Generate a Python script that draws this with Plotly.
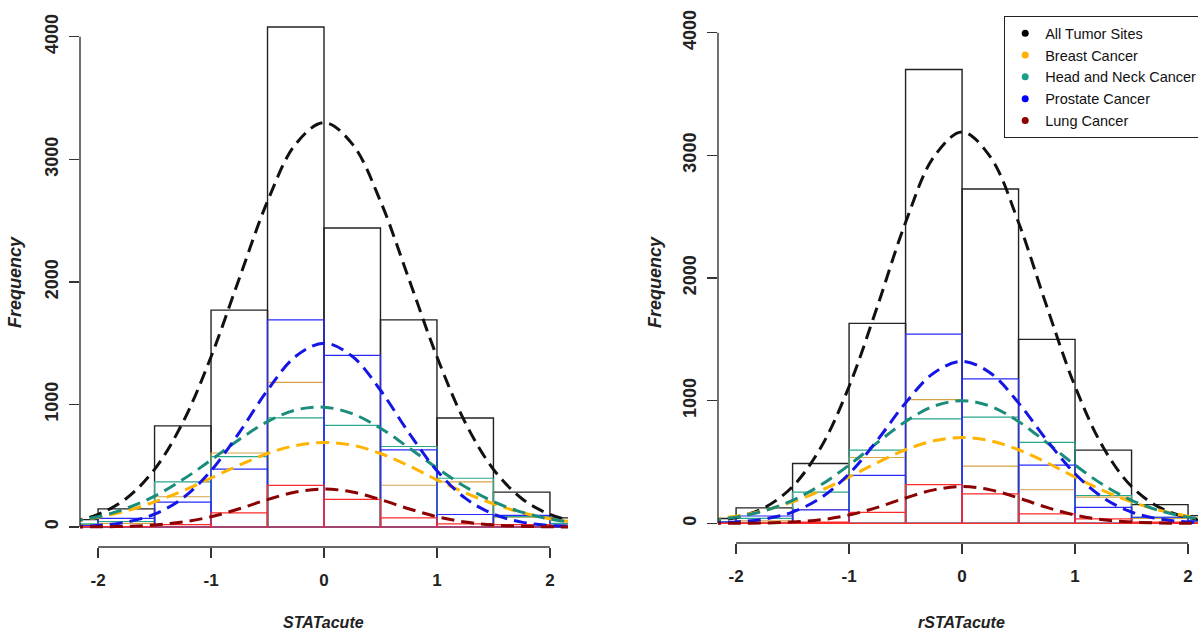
import plotly.graph_objects as go

# ---------------- data ----------------
bin_centers = [-2.25, -1.75, -1.25, -0.75, -0.25, 0.25, 0.75, 1.25, 1.75, 2.25]

# STATacute histograms (left)
all_L = [60, 148, 825, 1770, 4080, 2440, 1690, 890, 285, 75]
breast_L = [20, 30, 247, 604, 1180, 0, 341, 368, 80, 25]
hn_L = [25, 45, 368, 574, 890, 830, 657, 398, 85, 30]
prost_L = [12, 70, 203, 473, 1690, 1400, 629, 102, 95, 15]
lung_L = [3, 3, 20, 115, 340, 225, 74, 25, 20, 5]

# rSTATacute histograms (right)
all_R = [40, 126, 488, 1630, 3700, 2725, 1500, 597, 153, 63]
breast_R = [12, 20, 113, 537, 1008, 466, 274, 214, 40, 15]
hn_R = [15, 40, 255, 597, 852, 866, 660, 227, 50, 20]
prost_R = [10, 60, 110, 392, 1542, 1178, 474, 131, 50, 20]
lung_R = [3, 5, 10, 90, 315, 241, 77, 36, 10, 5]

# fitted curves
curve_x = [-2.25, -2.0, -1.75, -1.5, -1.25, -1.0, -0.75, -0.5, -0.25, 0.0,
           0.25, 0.5, 0.75, 1.0, 1.25, 1.5, 1.75, 2.0, 2.25]
fit_all_L = [41, 103, 233, 471, 853, 1389, 2028, 2658, 3126, 3300, 3126, 2658, 2028, 1389, 853, 471, 233, 103, 41]
fit_breast_L = [45, 80, 132, 205, 295, 400, 505, 600, 665, 690, 668, 600, 500, 385, 280, 190, 118, 68, 36]
fit_hn_L = [43, 84, 152, 252, 387, 547, 714, 860, 955, 978, 925, 806, 648, 481, 329, 208, 121, 65, 32]
fit_prost_L = [4, 13, 40, 105, 236, 459, 771, 1116, 1393, 1500, 1393, 1116, 771, 459, 236, 105, 40, 13, 4]
fit_lung_L = [0, 2, 6, 17, 41, 84, 149, 224, 286, 310, 286, 224, 149, 84, 41, 17, 6, 2, 0]

fit_all_R = [16, 48, 128, 300, 618, 1116, 1767, 2453, 2987, 3190, 2987, 2453, 1767, 1116, 618, 300, 128, 48, 16]
fit_breast_R = [31, 59, 106, 175, 267, 378, 495, 600, 673, 700, 673, 600, 495, 378, 267, 175, 106, 59, 31]
fit_hn_R = [23, 51, 103, 188, 313, 475, 658, 830, 955, 1000, 955, 830, 658, 475, 313, 188, 103, 51, 23]
fit_prost_R = [3, 12, 35, 92, 208, 404, 678, 982, 1226, 1320, 1226, 982, 678, 404, 208, 92, 35, 12, 3]
fit_lung_R = [0, 1, 3, 11, 29, 68, 130, 207, 273, 300, 273, 207, 130, 68, 29, 11, 3, 1, 0]

x_ticks = [-2, -1, 0, 1, 2]
y_ticks = [0, 1000, 2000, 3000, 4000]
legend_names = ["All Tumor Sites", "Breast Cancer", "Head and Neck Cancer", "Prostate Cancer", "Lung Cancer"]
x_titles = ["STATacute", "rSTATacute"]

# ---------------- styles ----------------
hist_colors = ["#222222", "#D6A445", "#2AA68E", "#2B2BFF", "#FF2B2B"]
curve_colors = ["#111111", "#FFB400", "#1A8C7C", "#1515E6", "#8B0000"]
legend_colors = ["#000000", "#FFB000", "#1A9E8A", "#0000FF", "#8B0000"]
FONT = "Liberation Sans, Arial, sans-serif"
W, H = 1198, 633

fig = go.Figure()

panels = [
    ("x", "y", [all_L, breast_L, hn_L, prost_L, lung_L],
     [fit_all_L, fit_breast_L, fit_hn_L, fit_prost_L, fit_lung_L]),
    ("x2", "y2", [all_R, breast_R, hn_R, prost_R, lung_R],
     [fit_all_R, fit_breast_R, fit_hn_R, fit_prost_R, fit_lung_R]),
]

for xa, ya, hists, fits in panels:
    for i, counts in enumerate(hists):
        fig.add_trace(go.Bar(
            x=bin_centers, y=counts, width=0.5, xaxis=xa, yaxis=ya,
            marker=dict(color="rgba(0,0,0,0)",
                        line=dict(color=hist_colors[i], width=1.4 if i == 0 else 1.2)),
            showlegend=False, hoverinfo="skip"))
    for i, vals in enumerate(fits):
        fig.add_trace(go.Scatter(
            x=curve_x, y=vals, mode="lines", xaxis=xa, yaxis=ya,
            line=dict(color=curve_colors[i], width=3, dash="13px,7px",
                      shape="spline", smoothing=1.0),
            showlegend=False, hoverinfo="skip"))

for i, name in enumerate(legend_names):
    fig.add_trace(go.Scatter(
        x=[None], y=[None], mode="markers", name=name, xaxis="x2", yaxis="y2",
        marker=dict(color=legend_colors[i], size=7), showlegend=True))

tickfont = dict(family=FONT, size=17, color="#222222", weight="bold")
ytickfont = dict(family=FONT, size=18, color="#222222", weight="bold")

def xaxis_cfg(domain, rng):
    return dict(domain=domain, range=rng, tickmode="array", tickvals=x_ticks,
                ticktext=[str(v) for v in x_ticks], ticks="outside", ticklen=10,
                tickwidth=1.3, tickcolor="#333333", showgrid=False, zeroline=False,
                showline=False, tickfont=tickfont, ticklabelstandoff=8, fixedrange=True)

def yaxis_cfg(domain, rng, anchor):
    return dict(domain=domain, range=rng, tickmode="array", tickvals=y_ticks,
                ticktext=[str(v) for v in y_ticks], ticks="outside", ticklen=10,
                tickwidth=1.3, tickcolor="#333333", showgrid=False, zeroline=False,
                showline=False, tickangle=-90, tickfont=ytickfont, anchor=anchor,
                ticklabelstandoff=4, fixedrange=True)

fig.update_layout(
    width=W, height=H,
    margin=dict(l=0, r=0, t=0, b=0, autoexpand=False),
    paper_bgcolor="white", plot_bgcolor="white",
    barmode="overlay",
    xaxis=xaxis_cfg([80 / W, 568 / W], [-2.16, 2.16]) | dict(anchor="y"),
    yaxis=yaxis_cfg([1 - 547 / H, 1 - 7 / H], [-163, 4243], "x"),
    xaxis2=xaxis_cfg([718 / W, 1.0], [-2.16, 2.088]) | dict(anchor="y2"),
    yaxis2=yaxis_cfg([1 - 543 / H, 1 - 13 / H], [-160, 4160], "x2"),
    showlegend=True,
    legend=dict(x=1004 / W, y=1 - 16 / H, xanchor="left", yanchor="top",
                bgcolor="white", bordercolor="#222222", borderwidth=1.2,
                font=dict(family=FONT, size=14.5, color="#111111"),
                itemwidth=30, tracegroupgap=0,
                entrywidth=230, entrywidthmode="pixels"),
)

# R-style axis lines spanning only the tick range
for xa, ya in [("x", "y"), ("x2", "y2")]:
    fig.add_shape(type="line", xref=xa, yref=f"{ya} domain", x0=-2, x1=2, y0=0, y1=0,
                  line=dict(color="#333333", width=1.4))
    fig.add_shape(type="line", xref=f"{xa} domain", yref=ya, x0=0, x1=0, y0=0, y1=4000,
                  line=dict(color="#333333", width=1.4))

title_font = dict(family=FONT, size=16, color="#222222", weight="bold", style="italic")
ytitle_font = dict(family=FONT, size=18, color="#222222", weight="bold", style="italic")
for xpix in [15, 655]:
    fig.add_annotation(text="Frequency", xref="paper", yref="paper", x=xpix / W, y=1 - 282 / H,
                       textangle=-90, showarrow=False, font=ytitle_font,
                       xanchor="center", yanchor="middle")
for xpix, txt in zip([323, 961], x_titles):
    fig.add_annotation(text=txt, xref="paper", yref="paper", x=xpix / W, y=1 - 622 / H,
                       showarrow=False, font=title_font, xanchor="center", yanchor="middle")

fig.write_html("out.html",
               config={"displayModeBar": False, "staticPlot": True},
               post_script="document.body.style.margin='0px';"
                           "document.documentElement.style.margin='0px';")
